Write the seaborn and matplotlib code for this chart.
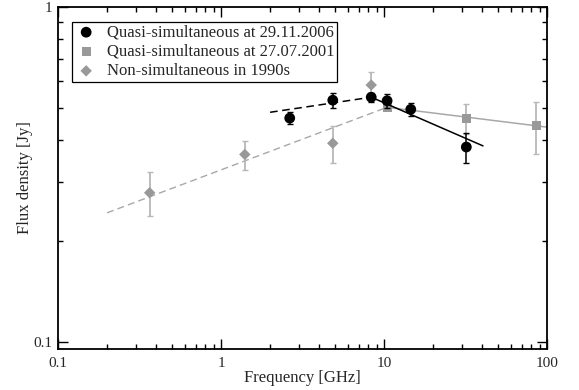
import numpy as np
import pandas as pd
import matplotlib
matplotlib.use("Agg")
import matplotlib.pyplot as plt
from matplotlib.ticker import LogLocator, FixedLocator, FixedFormatter, NullFormatter
import seaborn as sns

# Quasi-simultaneous spectrum, 29.11.2006
freq_2006 = [2.64, 4.85, 8.35, 10.45, 14.6, 32.0]
flux_2006 = [0.466, 0.527, 0.538, 0.525, 0.495, 0.382]
err_2006 = [0.020, 0.026, 0.017, 0.025, 0.023, 0.039]

# Quasi-simultaneous spectrum, 27.07.2001
freq_2001 = [10.45, 32.0, 86.0]
flux_2001 = [0.502, 0.465, 0.442]
err_2001 = [0.010, 0.047, 0.077]

# Non-simultaneous archival measurements (1990s)
freq_1990 = [0.365, 1.4, 4.85, 8.35]
flux_1990 = [0.279, 0.363, 0.392, 0.585]
err_1990 = [0.042, 0.036, 0.049, 0.056]

# Power-law fits (end points of each straight segment in log-log)
fit_2006_low_freq = [2.0, 8.35]
fit_2006_low_flux = [0.485, 0.538]
fit_2006_high_freq = [8.35, 40.5]
fit_2006_high_flux = [0.538, 0.385]
fit_2001_freq = [10.45, 100.0]
fit_2001_flux = [0.502, 0.438]
fit_1990_freq = [0.2, 10.45]
fit_1990_flux = [0.243, 0.502]

labels = ["Quasi-simultaneous at 29.11.2006",
          "Quasi-simultaneous at 27.07.2001",
          "Non-simultaneous in 1990s"]
xtick_vals = [0.1, 1, 10, 100]
xtick_text = ["0.1", "1", "10", "100"]
ytick_vals = [0.1, 1]
ytick_text = ["0.1", "1"]

sns.set_style("ticks")
plt.rcParams["font.family"] = ["Liberation Serif", "DejaVu Serif"]

fig = plt.figure(figsize=(5.79, 3.90), dpi=100)
ax = fig.add_axes([0.1002, 0.1051, 0.8445, 0.8769])

grey_mk = "#999999"
grey_ln = "#a8a8a8"
grey_err = "#b8b8b8"

# fit lines
sns.lineplot(x=fit_1990_freq, y=fit_1990_flux, ax=ax, color=grey_ln,
             linestyle=(0, (5, 3)), linewidth=1.0, zorder=1)
sns.lineplot(x=fit_2001_freq, y=fit_2001_flux, ax=ax, color=grey_ln,
             linewidth=1.1, zorder=1)
sns.lineplot(x=fit_2006_low_freq, y=fit_2006_low_flux, ax=ax, color="black",
             linestyle=(0, (5, 3)), linewidth=1.1, zorder=4)
sns.lineplot(x=fit_2006_high_freq, y=fit_2006_high_flux, ax=ax, color="black",
             linewidth=1.1, zorder=4)

# error bars
ax.errorbar(freq_1990, flux_1990, yerr=err_1990, fmt="none", ecolor=grey_err,
            elinewidth=1.3, capsize=2.3, capthick=1.0, zorder=2)
ax.errorbar(freq_2001, flux_2001, yerr=err_2001, fmt="none", ecolor=grey_err,
            elinewidth=1.3, capsize=2.3, capthick=1.0, zorder=2)
ax.errorbar(freq_2006, flux_2006, yerr=err_2006, fmt="none", ecolor="black",
            elinewidth=1.1, capsize=2.3, capthick=1.0, zorder=5)

# markers
sns.scatterplot(x=freq_1990, y=flux_1990, ax=ax, marker="D", s=34,
                color=grey_mk, edgecolor="none", zorder=3, label=labels[2])
sns.scatterplot(x=freq_2001, y=flux_2001, ax=ax, marker="s", s=40,
                color=grey_mk, edgecolor="none", zorder=3, label=labels[1])
sns.scatterplot(x=freq_2006, y=flux_2006, ax=ax, marker="o", s=60,
                color="black", edgecolor="none", zorder=6, label=labels[0])

ax.set_xscale("log")
ax.set_yscale("log")
ax.set_xlim(0.1, 100)
ax.set_ylim(0.0953, 1.0)

ax.xaxis.set_major_locator(FixedLocator(xtick_vals))
ax.xaxis.set_major_formatter(FixedFormatter(xtick_text))
ax.xaxis.set_minor_locator(LogLocator(base=10, subs=np.arange(2, 10)))
ax.xaxis.set_minor_formatter(NullFormatter())
ax.yaxis.set_major_locator(FixedLocator(ytick_vals))
ax.yaxis.set_major_formatter(FixedFormatter(ytick_text))
ax.yaxis.set_minor_locator(LogLocator(base=10, subs=np.arange(2, 10)))
ax.yaxis.set_minor_formatter(NullFormatter())

ax.tick_params(which="both", direction="in", top=True, right=True,
               labelsize=11, color="black")
ax.tick_params(axis="x", which="major", pad=6)
ax.tick_params(axis="y", which="major", pad=4)
ax.tick_params(which="major", length=7, width=1.0)
ax.tick_params(which="minor", length=3.5, width=1.0)
for sp in ax.spines.values():
    sp.set_linewidth(1.3)
    sp.set_color("black")

ax.set_xlabel("Frequency [GHz]", fontsize=12, labelpad=0)
ax.set_ylabel("Flux density [Jy]", fontsize=12, labelpad=0)

handles, lbls = ax.get_legend_handles_labels()
order = [lbls.index(l) for l in labels]
leg = ax.legend([handles[i] for i in order], [lbls[i] for i in order],
                loc="upper left", bbox_to_anchor=(0.0286, 0.956),
                fontsize=12, frameon=True, fancybox=False,
                edgecolor="black", framealpha=1, handletextpad=0.55,
                borderpad=0.15, labelspacing=0.2, handlelength=1.4,
                borderaxespad=0)
leg.get_frame().set_linewidth(0.9)

fig.savefig("out.png", dpi=100)
